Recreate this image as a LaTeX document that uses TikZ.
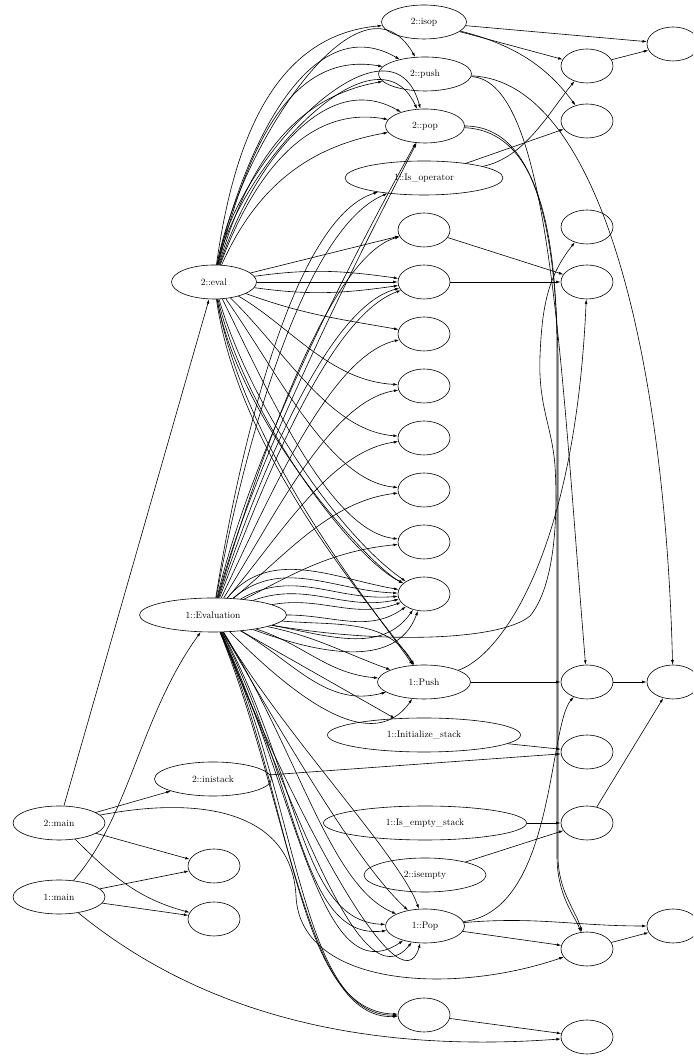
\documentclass[tikz,border=0pt]{standalone}
\usetikzlibrary{shapes.geometric,arrows.meta}
\begin{document}
\begin{tikzpicture}[x=1pt,y=1pt,
  nd/.style={draw,ellipse,line width=0.6pt,inner sep=0pt,minimum height=34pt,minimum width=52pt,font=\fontsize{9.5}{11}\selectfont},
  e/.style={-{Latex[length=4.5pt,width=2.8pt]},line width=0.6pt}]
\useasboundingbox (0,0) rectangle (693,1056);
\clip (0,0) rectangle (693,1056);
% nodes
\node[nd,minimum width=85pt] (isop) at (424,1034) {2::isop};
\node[nd,minimum width=93pt] (push2) at (425,982) {2::push};
\node[nd,minimum width=79pt] (pop2) at (425,930) {2::pop};
\node[nd,minimum width=158pt] (isoper) at (424,878) {1::Is\_operator};
\node[nd] (f1) at (673,1012) {};
\node[nd] (r1) at (587,990) {};
\node[nd] (r2) at (587,935) {};
\node[nd] (r3) at (587,829) {};
\node[nd] (r4) at (587,774) {};
\node[nd] (m1) at (424,826) {};
\node[nd] (m2) at (424,774) {};
\node[nd] (m3) at (424,722) {};
\node[nd] (m4) at (424,670) {};
\node[nd] (m5) at (424,618) {};
\node[nd] (m6) at (424,566) {};
\node[nd] (m7) at (424,514) {};
\node[nd] (m8) at (424,462) {};
\node[nd,minimum width=85pt] (eval2) at (214,774) {2::eval};
\node[nd,minimum width=147pt] (evalu) at (213,441) {1::Evaluation};
\node[nd,minimum width=93pt] (push1) at (424,374) {1::Push};
\node[nd,minimum width=193pt] (init) at (424,321) {1::Initialize\_stack};
\node[nd,minimum width=117pt] (inistack) at (213,277) {2::inistack};
\node[nd,minimum width=92pt] (main2) at (59,233) {2::main};
\node[nd,minimum width=92pt] (main1) at (59,159) {1::main};
\node[nd] (bl1) at (214,190) {};
\node[nd] (bl2) at (214,137) {};
\node[nd,minimum width=203pt] (isempst) at (425,233) {1::Is\_empty\_stack};
\node[nd,minimum width=122pt] (isempty) at (425,181) {2::isempty};
\node[nd,minimum width=79pt] (pop1) at (425,130) {1::Pop};
\node[nd] (m9) at (424,41) {};
\node[nd] (r5) at (587,374) {};
\node[nd] (r6) at (587,304) {};
\node[nd] (r7) at (587,233) {};
\node[nd] (r8) at (587,107) {};
\node[nd] (r9) at (587,19) {};
\node[nd] (f2) at (673,374) {};
\node[nd] (f3) at (673,130) {};
% left side
\draw[e] (main2) -- (eval2);
\draw[e] (main1) .. controls (130,240) and (140,340) .. (evalu);
\draw[e] (main2) -- (inistack);
\draw[e] (main2) -- (bl1);
\draw[e] (main2) to[out=-45,in=165] (bl2);
\draw[e] (main1) -- (bl1);
\draw[e] (main1) -- (bl2);
\draw[e] (main1) .. controls (180,60) and (330,0) .. (r9);
\draw[e] (main2) .. controls (210,262) and (292,240) .. (296,160) .. controls (300,70) and (450,60) .. (r8);
% right side
\draw[e] (isop) -- (f1);
\draw[e] (isop) -- (r1);
\draw[e] (isop) .. controls (520,1010) and (550,985) .. (r2);
\draw[e] (r1) -- (f1);
\draw[e] (isoper) .. controls (525,898) and (550,945) .. (r1);
\draw[e] (isoper) -- (r2);
\draw[e] (m1) -- (r4);
\draw[e] (m2) -- (r4);
\draw[e] (push2) .. controls (550,975) and (560,700) .. (r5);
\draw[e] (push2) .. controls (600,975) and (665,700) .. (f2);
\draw[e] (pop2) .. controls (540,925) and (557,820) .. (557,700) -- (557,200) .. controls (557,160) and (575,140) .. (r8);
\draw[e] (pop2) .. controls (535,930) and (555,830) .. (558,700) -- (558,200) .. controls (558,165) and (576,145) .. (r8);
\draw[e] (evalu) .. controls (380,412) and (500,415) .. (530,440) .. controls (555,470) and (558,540) .. (555,590) .. controls (552,630) and (538,650) .. (540,700) .. controls (542,750) and (548,780) .. (r3);
\draw[e] (push1) .. controls (500,400) and (575,500) .. (r4);
\draw[e] (push1) -- (r5);
\draw[e] (r5) -- (f2);
\draw[e] (init) -- (r6);
\draw[e] (inistack) -- (r6);
\draw[e] (isempst) -- (r7);
\draw[e] (isempty) -- (r7);
\draw[e] (r7) -- (f2);
\draw[e] (pop1) .. controls (555,145) and (548,330) .. (r5);
\draw[e] (pop1) to[out=5,in=180] (f3);
\draw[e] (pop1) -- (r8);
\draw[e] (r8) -- (f3);
\draw[e] (m9) -- (r9);
% 2::eval upward
\draw[e] (eval2) to[out=82,in=185] (isop);
\draw[e] (eval2) to[out=80,in=120] (push2);
\draw[e] (eval2) to[out=78,in=150] (push2);
\draw[e] (eval2) to[out=76,in=170] (push2);
\draw[e] (eval2) to[out=74,in=190] (push2);
\draw[e] (eval2) to[out=80,in=105,looseness=1.1] (pop2);
\draw[e] (eval2) to[out=78,in=115] (pop2);
\draw[e] (eval2) to[out=72,in=150] (pop2);
\draw[e] (eval2) to[out=70,in=170] (pop2);
\draw[e] (eval2) to[out=66,in=190] (pop2);
% 2::eval rightward / downward
\draw[e] (eval2) -- (m1);
\draw[e] (eval2) to[out=8,in=172] (m2);
\draw[e] (eval2) -- (m2);
\draw[e] (eval2) to[out=-8,in=188] (m2);
\draw[e] (eval2) to[out=-20,in=170] (m3);
\draw[e] (eval2) .. controls (290,730) and (330,675) .. (m4);
\draw[e] (eval2) .. controls (285,705) and (330,625) .. (m5);
\draw[e] (eval2) .. controls (280,680) and (330,575) .. (m6);
\draw[e] (eval2) .. controls (270,660) and (330,525) .. (m7);
\draw[e] (eval2) .. controls (250,650) and (340,520) .. (m8);
\draw[e] (eval2) .. controls (245,640) and (350,500) .. (m8);
\draw[e] (eval2) .. controls (240,630) and (370,490) .. (m8);
\draw[e] (eval2) .. controls (245,600) and (380,440) .. (push1);
\draw[e] (eval2) .. controls (240,590) and (390,430) .. (push1);
% 1::Evaluation upward
\draw[e] (evalu) .. controls (245,640) and (300,840) .. (isoper);
\draw[e] (evalu) .. controls (250,640) and (310,830) .. (isoper);
\draw[e] (evalu) .. controls (255,620) and (370,830) .. (pop2);
\draw[e] (evalu) .. controls (258,610) and (380,840) .. (pop2);
\draw[e] (evalu) .. controls (260,600) and (330,800) .. (m1);
\draw[e] (evalu) .. controls (262,590) and (330,750) .. (m2);
\draw[e] (evalu) .. controls (266,580) and (330,740) .. (m2);
\draw[e] (evalu) .. controls (270,560) and (330,700) .. (m3);
\draw[e] (evalu) .. controls (275,540) and (330,655) .. (m4);
\draw[e] (evalu) .. controls (280,520) and (330,605) .. (m5);
\draw[e] (evalu) .. controls (285,500) and (330,555) .. (m6);
\draw[e] (evalu) .. controls (290,480) and (330,505) .. (m7);
% 1::Evaluation to m8
\draw[e] (evalu) to[out=50,in=170] (m8);
\draw[e] (evalu) to[out=40,in=178] (m8);
\draw[e] (evalu) to[out=30,in=185] (m8);
\draw[e] (evalu) to[out=20,in=192] (m8);
\draw[e] (evalu) to[out=10,in=200] (m8);
\draw[e] (evalu) to[out=0,in=215] (m8);
\draw[e] (evalu) to[out=-10,in=235] (m8);
\draw[e] (evalu) to[out=-20,in=250] (m8);
% 1::Evaluation to 1::Push
\draw[e] (evalu) to[out=-5,in=120] (push1);
\draw[e] (evalu) to[out=-12,in=160] (push1);
\draw[e] (evalu) to[out=-18,in=175] (push1);
\draw[e] (evalu) to[out=-30,in=195] (push1);
\draw[e] (evalu) to[out=-45,in=235] (push1);
\draw[e] (evalu) -- (init);
% 1::Evaluation to 1::Pop
\draw[e] (evalu) .. controls (300,300) and (330,170) .. (pop1);
\draw[e] (evalu) .. controls (295,300) and (360,190) .. (pop1);
\draw[e] (evalu) .. controls (285,320) and (400,200) .. (pop1);
\draw[e] (evalu) .. controls (300,280) and (300,135) .. (pop1);
\draw[e] (evalu) .. controls (300,270) and (300,115) .. (pop1);
\draw[e] (evalu) .. controls (298,260) and (320,60) .. (pop1);
\draw[e] (evalu) .. controls (296,250) and (360,50) .. (pop1);
\draw[e] (evalu) .. controls (292,250) and (400,40) .. (pop1);
% 1::Evaluation to bottom node
\draw[e] (evalu) .. controls (295,250) and (295,45) .. (m9);
\draw[e] (evalu) .. controls (300,250) and (300,40) .. (m9);
\draw[e] (evalu) .. controls (290,250) and (305,35) .. (m9);
\end{tikzpicture}
\end{document}
